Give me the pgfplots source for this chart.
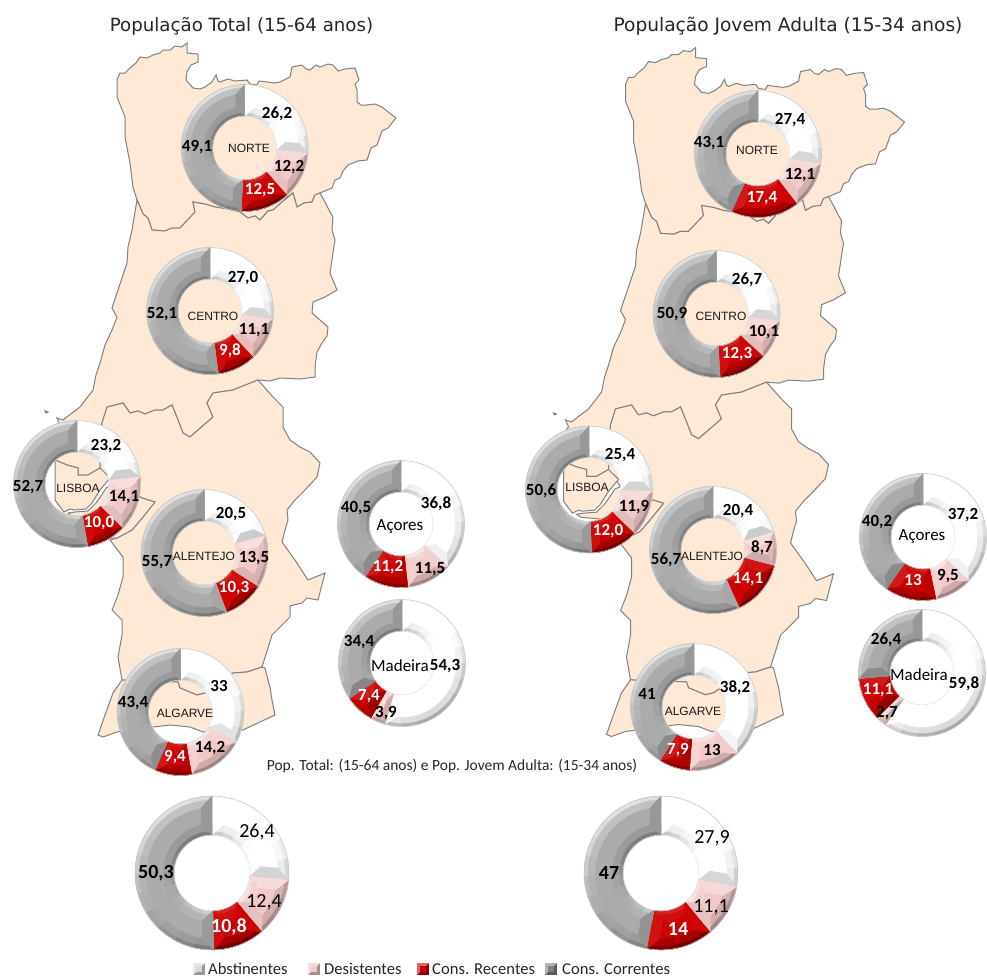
\documentclass[border=0pt]{standalone}
\usepackage{fontspec}
\usepackage{pgfplots}
\usepackage{pgfplotstable}
\pgfplotsset{compat=1.18}
\setmainfont{Carlito}
\newfontfamily\djf{DejaVu Sans}
\newfontfamily\libf{Liberation Sans}
\definecolor{cream}{HTML}{FDE9D6}
\definecolor{mapline}{HTML}{808080}
\definecolor{cA}{HTML}{FFFFFF}
\definecolor{cD}{HTML}{F2C8C8}
\definecolor{cR}{HTML}{CC0000}
\definecolor{cC}{HTML}{ABABAB}
\pgfplotsset{pic/.style={width=987pt,height=977pt,scale only axis,xmin=0,xmax=987,ymin=0,ymax=977,y dir=reverse,hide axis,clip=false}}
\pgfplotstableread{
x y
117 80
120 73
125 73
130 68
136 63
140 57
147 58
153 55
160 53
163 50
170 50
175 46
182 47
187 43
187 53
198 54
198 62
191 65
187 72
186 80
193 88
200 89
205 87
212 82
216 75
218 81
220 82
228 79
235 81
247 80
250 84
257 85
259 81
267 82
274 83
280 82
290 77
292 67
302 65
306 69
310 70
316 65
320 67
328 64
333 65
338 71
345 69
355 68
359 80
355 84
357 90
357 102
361 105
367 105
375 104
382 107
396 118
388 128
382 131
377 145
371 148
367 160
358 161
348 165
343 171
340 178
335 180
332 188
320 193
315 195
312 202
304 203
297 207
293 193
286 198
282 202
273 210
268 211
260 220
255 216
248 218
240 212
228 209
215 207
205 204
193 202
195 212
180 228
172 228
165 231
152 230
148 218
143 214
138 202
137 200
133 187
130 163
125 137
125 117
117 97
}\tNorte
\pgfplotstableread{
x y
138 202
143 214
148 218
152 230
165 231
172 228
180 228
195 212
193 202
205 204
215 207
228 209
240 212
248 218
255 216
260 220
268 211
273 210
282 202
293 193
297 207
304 203
312 202
315 195
320 193
326 204
330 212
333 217
332 230
335 240
333 253
330 273
337 290
325 297
313 302
312 313
320 320
328 327
327 336
322 343
317 352
315 367
315 377
300 379
280 378
270 381
258 380
233 390
213 393
207 403
213 417
190 437
183 433
178 420
172 405
163 410
155 410
145 414
138 411
130 413
123 403
107 407
102 423
100 468
88 475
78 475
78 468
67 465
55 460
50 440
60 425
57 418
63 420
72 413
80 407
93 390
96 375
100 363
105 345
112 330
117 317
112 308
118 290
124 272
127 263
128 247
132 230
137 200
}\tCentro
\pgfplotstableread{
x y
55 460
67 465
78 468
78 475
88 475
100 468
110 478
100 490
92 503
86 509
74 510
70 509
64 512
55 500
}\tLisA
\pgfplotstableread{
x y
106 488
112 485
130 492
142 498
155 502
143 517
132 530
117 538
108 538
104 525
92 518
72 516
68 513
75 512
88 511
96 503
103 493
}\tLisB
\pgfplotstableread{
x y
102 423
107 407
123 403
130 413
138 411
145 414
155 410
163 410
172 405
178 420
183 433
190 437
213 417
207 403
213 393
233 390
258 380
273 397
283 407
283 427
290 440
300 447
310 452
320 463
317 477
305 490
295 500
287 510
288 520
285 530
282 542
297 563
308 580
325 573
318 600
307 598
302 603
290 606
290 617
272 635
268 648
262 667
247 672
233 673
220 683
205 693
197 695
180 688
178 682
150 681
122 680
118 657
122 635
122 620
112 610
118 595
123 577
123 557
110 540
117 538
132 530
143 517
155 502
142 498
130 492
112 485
100 468
}\tAlentejo
\pgfplotstableread{
x y
122 680
150 681
178 682
180 688
197 695
205 693
220 683
233 673
247 672
262 667
265 668
268 680
270 687
272 700
275 715
243 730
203 732
190 727
170 725
153 727
117 732
103 737
98 735
105 715
113 693
}\tAlgarve
\pgfplotstableread{
x y
45 411
48 412
46 413
}\tIlha
% ---- polygon helpers
\makeatletter
\def\AddArc#1#2#3#4#5#6{%
 \foreach \ii in {0,...,#6}{%
   \pgfmathsetmacro\tt@{#4+(#5-(#4))/#6*\ii}%
   \pgfmathsetmacro\px@{#1+#3*cos(\tt@)}%
   \pgfmathsetmacro\py@{#2-#3*sin(\tt@)}%
   \xdef\coords{\coords(\px@,\py@)}}}
\def\Poly#1{\edef\next@{\noexpand\addplot[forget plot,no marks,draw={#1},line width=0.2pt,fill={#1}] coordinates {\coords} --cycle;}\next@}
% #1 cx #2 cy #3 r1 #4 r2 #5 a1 #6 a2 #7 colour
\def\Ring#1#2#3#4#5#6#7{%
 \pgfmathtruncatemacro\nn@{max(1,ceil(abs(#5-(#6))/8))}%
 \gdef\coords{}\AddArc{#1}{#2}{#3}{#5}{#6}{\nn@}\AddArc{#1}{#2}{#4}{#6}{#5}{\nn@}\Poly{#7}}
% mix base by d*strength
\def\Shade#1#2#3{% base, d, strength -> \shc
 \pgfmathtruncatemacro\pp@{round(abs(#2)*#3*(#2>0?\Lcoef:\Dcoef))}%
 \pgfmathparse{#2>0?1:0}%
 \ifdim\pgfmathresult pt>0.5pt \edef\shc{#1!\the\numexpr100-\pp@\relax!white}\else\edef\shc{#1!\the\numexpr100-\pp@\relax!black}\fi}
% bevel band: cx cy rA rB a1 a2 base sign strength
\def\Bev#1#2#3#4#5#6#7#8#9{%
 \pgfmathtruncatemacro\ns@{max(1,round(abs(#5-(#6))/15))}%
 \foreach \kk in {1,...,\ns@}{%
   \pgfmathsetmacro\aa@{#5+(#6-(#5))/\ns@*(\kk-1)}%
   \pgfmathsetmacro\ab@{#5+(#6-(#5))/\ns@*\kk}%
   \pgfmathsetmacro\dd@{#8*cos((\aa@+\ab@)/2-120)}%
   \Shade{#7}{\dd@}{#9}%
   \Ring{#1}{#2}{#3}{#4}{\aa@}{\ab@}{\shc}}}
% end facet: cx cy R r a side(+1 sector at smaller angle) base maxdelta b; strength in \EndS
\def\EndF#1#2#3#4#5#6#7#8#9{%
 \pgfmathsetmacro\dd@{cos(#5+#6*90-120)}%
 \pgfmathsetmacro\do@{min(#8,deg(#9/(#3-#9)))}%
 \pgfmathsetmacro\di@{min(#8,deg(#9/(#4+#9)))}%
 \pgfmathsetmacro\ro@{#3-#9}\pgfmathsetmacro\ri@{#4+#9}%
 \Shade{#7}{\dd@}{\EndS}%
 \gdef\coords{}%
 \AddArc{#1}{#2}{#3}{#5}{#5}{1}\AddArc{#1}{#2}{#4}{#5}{#5}{1}%
 \pgfmathsetmacro\ta@{#5-#6*\di@}\pgfmathsetmacro\tb@{#5-#6*\do@}%
 \AddArc{#1}{#2}{\ri@}{\ta@}{\ta@}{1}\AddArc{#1}{#2}{\ro@}{\tb@}{\tb@}{1}%
 \Poly{\shc}}
% sector: cx cy R r a1 a2 base b
\def\Sector#1#2#3#4#5#6#7#8{%
 \Ring{#1}{#2}{#3}{#4}{#5}{#6}{#7}%
 \pgfmathsetmacro\ra@{#3-#8/3}\pgfmathsetmacro\rc@{#3-#8}%
 \pgfmathsetmacro\rd@{#4+#8/3}\pgfmathsetmacro\rf@{#4+#8}%
 \edef\Ra@{\ra@}\edef\Rc@{\rc@}\edef\Rd@{\rd@}\edef\Rf@{\rf@}%
 \Bev{#1}{#2}{\Ra@}{\Rc@}{#5}{#6}{#7}{1}{0.42}%
 \Bev{#1}{#2}{#3}{\Ra@}{#5}{#6}{#7}{1}{1}%
 \Bev{#1}{#2}{\Rd@}{\Rf@}{#5}{#6}{#7}{-1}{0.3}%
 \Bev{#1}{#2}{#4}{\Rd@}{#5}{#6}{#7}{-1}{0.8}%
 \pgfmathsetmacro\hd@{abs(#5-(#6))/2}\edef\Hd@{\hd@}%
 \def\EndS{0.6}%
 \EndF{#1}{#2}{#3}{#4}{#5}{1}{#7}{\Hd@}{#8}%
 \EndF{#1}{#2}{#3}{#4}{#6}{-1}{#7}{\Hd@}{#8}}
% donut: cx cy R r b v1 v2 v3 v4
\def\Donut#1#2#3#4#5#6#7#8#9{%
 \pgfmathsetmacro\sm@{#6+#7+#8+#9}%
 \pgfmathsetmacro\Aa@{90-(#6)/\sm@*360}\edef\AA@{\Aa@}%
 \pgfmathsetmacro\Ab@{90-(#6+#7)/\sm@*360}\edef\AB@{\Ab@}%
 \pgfmathsetmacro\Ac@{90-(#6+#7+#8)/\sm@*360}\edef\AC@{\Ac@}%
 \def\Lcoef{0}\def\Dcoef{34}%
 \Sector{#1}{#2}{#3}{#4}{90}{\AA@}{cA}{#5}%
 \def\Lcoef{70}\def\Dcoef{35}%
 \Sector{#1}{#2}{#3}{#4}{\AA@}{\AB@}{cD}{#5}%
 \def\Lcoef{18}\def\Dcoef{45}%
 \Sector{#1}{#2}{#3}{#4}{\AB@}{\AC@}{cR}{#5}%
 \def\Lcoef{65}\def\Dcoef{35}%
 \Sector{#1}{#2}{#3}{#4}{\AC@}{-270}{cC}{#5}%
 \gdef\coords{}\AddArc{#1}{#2}{#3}{0}{360}{48}%
 \edef\next@{\noexpand\addplot[forget plot,no marks,draw=black!22,line width=0.6pt] coordinates {\coords};}\next@
 \gdef\coords{}\AddArc{#1}{#2}{#4}{0}{360}{36}%
 \edef\next@{\noexpand\addplot[forget plot,no marks,draw=black!12,line width=0.5pt] coordinates {\coords};}\next@}
\makeatother
\newcommand\Map[1]{\addplot[forget plot,no marks,fill=cream,draw=mapline,line width=1pt] #1 --cycle;}
\newcommand\Lb[3]{\node[font=\fontsize{17}{17}\selectfont\bfseries,text=black,inner sep=0pt] at (axis cs:#1,#2) {#3};}
\newcommand\Lw[3]{\node[font=\fontsize{17}{17}\selectfont\bfseries,text=white,inner sep=0pt] at (axis cs:#1,#2) {#3};}
\newcommand\Rg[3]{\node[font=\libf\fontsize{12}{12}\selectfont,text=black!90,inner sep=0pt] at (axis cs:#1,#2) {#3};}
\newcommand\Is[3]{\node[font=\fontsize{17}{17}\selectfont,text=black,inner sep=0pt] at (axis cs:#1,#2) {#3};}
\newcommand\LegMark[2]{%
 \addplot[forget plot,fill=#2!70!black,draw=none] coordinates {(#1,963)(#1+12,963)(#1+12,975)(#1,975)} --cycle;
 \addplot[forget plot,fill=#2!60!white,draw=none] coordinates {(#1,963)(#1+12,963)(#1,975)} --cycle;
 \addplot[forget plot,fill=#2,draw=none] coordinates {(#1+3,966)(#1+9,966)(#1+9,972)(#1+3,972)} --cycle;
}
\begin{document}
\begin{tikzpicture}
\begin{axis}[pic]
\addplot[forget plot,fill=white,draw=none] coordinates {(0,0)(987,0)(987,977)(0,977)} --cycle;
% left map
\Map{table[x=x,y=y]{\tNorte}}
\Map{table[x=x,y=y]{\tCentro}}
\Map{table[x=x,y=y]{\tAlentejo}}
\Map{table[x=x,y=y]{\tAlgarve}}
\Map{table[x=x,y=y]{\tLisA}}
\Map{table[x=x,y=y]{\tLisB}}
\Map{table[x=x,y=y]{\tIlha}}
% right map
\Map{table[x expr=\thisrow{x}+508.5,y expr=0.9925*\thisrow{y}+5]{\tNorte}}
\Map{table[x expr=\thisrow{x}+508.5,y expr=0.9925*\thisrow{y}+5]{\tCentro}}
\Map{table[x expr=\thisrow{x}+508.5,y expr=0.9925*\thisrow{y}+5]{\tAlentejo}}
\Map{table[x expr=\thisrow{x}+508.5,y expr=0.9925*\thisrow{y}+5]{\tAlgarve}}
\Map{table[x expr=\thisrow{x}+508.5,y expr=0.9925*\thisrow{y}+5]{\tLisA}}
\Map{table[x expr=\thisrow{x}+508.5,y expr=0.9925*\thisrow{y}+5]{\tLisB}}
\Map{table[x expr=\thisrow{x}+508.5,y expr=0.9925*\thisrow{y}+5]{\tIlha}}
\end{axis}
% donuts, left
\begin{axis}[pic]
\Donut{244.7}{148}{63.5}{32}{9}{26.2}{12.2}{12.5}{49.1}
\Donut{210}{311}{63.5}{32}{9}{27.0}{11.1}{9.8}{52.1}
\Donut{77}{484}{63.5}{32}{9}{23.2}{14.1}{10.0}{52.7}
\end{axis}
\begin{axis}[pic]
\Donut{204.5}{553}{63.5}{32}{9}{20.5}{13.5}{10.3}{55.7}
\Donut{180.5}{712}{63.5}{32}{9}{33}{14.2}{9.4}{43.4}
\Donut{401}{524}{63.5}{32}{9}{36.8}{11.5}{11.2}{40.5}
\end{axis}
\begin{axis}[pic]
\Donut{402}{663}{63.5}{32}{9}{54.3}{3.9}{7.4}{34.4}
\Donut{212}{873}{77}{38}{11}{26.4}{12.4}{10.8}{50.3}
\Donut{758}{154}{63.5}{32}{9}{27.4}{12.1}{17.4}{43.1}
\end{axis}
% donuts, right
\begin{axis}[pic]
\Donut{716.5}{314}{63.5}{32}{9}{26.7}{10.1}{12.3}{50.9}
\Donut{589}{489.5}{63.5}{32}{9}{25.4}{11.9}{12.0}{50.6}
\Donut{713}{550}{63.5}{32}{9}{20.4}{8.7}{14.1}{56.7}
\end{axis}
\begin{axis}[pic]
\Donut{694}{707}{63.5}{32}{9}{38.2}{13}{7.9}{41}
\Donut{923}{537}{63.5}{32}{9}{37.2}{9.5}{13}{40.2}
\Donut{922}{673}{63.5}{32}{9}{59.8}{2.7}{11.1}{26.4}
\end{axis}
\begin{axis}[pic]
\Donut{661}{873}{77}{38}{11}{27.9}{11.1}{14}{47}
% legend marks
\LegMark{193}{cA!85!black}
\LegMark{308}{cD}
\LegMark{417}{cR}
\LegMark{545}{cC!75!black}
% titles
\node[font=\djf\fontsize{18.2}{18.2}\selectfont,text=black!85,inner sep=0pt] at (axis cs:241.5,26) {População Total (15-64 anos)};
\node[font=\djf\fontsize{18.6}{18.6}\selectfont,text=black!85,inner sep=0pt] at (axis cs:788,26) {População Jovem Adulta (15-34 anos)};
\node[font=\fontsize{15.5}{15.5}\selectfont,text=black!85,inner sep=0pt] at (axis cs:452,766) {Pop. Total: (15-64 anos) e Pop. Jovem Adulta: (15-34 anos)};
\node[font=\fontsize{16.6}{16.6}\selectfont,text=black!85,inner sep=0pt,anchor=base west] at (axis cs:208,974.5) {Abstinentes};
\node[font=\fontsize{16.6}{16.6}\selectfont,text=black!85,inner sep=0pt,anchor=base west] at (axis cs:324,974.5) {Desistentes};
\node[font=\fontsize{16.6}{16.6}\selectfont,text=black!85,inner sep=0pt,anchor=base west] at (axis cs:432,974.5) {Cons. Recentes};
\node[font=\fontsize{16.6}{16.6}\selectfont,text=black!85,inner sep=0pt,anchor=base west] at (axis cs:562,974.5) {Cons. Correntes};
% labels left
\Lb{277}{114}{26,2}\Lb{289}{167}{12,2}\Lw{260}{190}{12,5}\Lb{197}{147}{49,1}\Rg{249}{148}{NORTE}
\Lb{243}{278}{27,0}\Lb{254}{330}{11,1}\Lw{230}{351}{9,8}\Lb{162}{314}{52,1}\Rg{213}{316}{CENTRO}
\Lb{106}{446}{23,2}\Lb{124}{497}{14,1}\Lw{99}{523}{10,0}\Lb{28}{487}{52,7}\Rg{78}{488}{LISBOA}
\Lb{231}{514}{20,5}\Lb{254}{558}{13,5}\Lw{234}{588}{10,3}\Lb{157}{562}{55,7}\Rg{204}{556}{ALENTEJO}
\Lb{219}{686}{33}\Lb{210}{748}{14,2}\Lw{175}{757}{9,4}\Lb{133}{703}{43,4}\Rg{185}{713}{ALGARVE}
\Lb{436}{504}{36,8}\Lb{430}{569}{11,5}\Lw{388}{567}{11,2}\Lb{356}{508}{40,5}\Is{400}{526}{Açores}
\Lb{445}{666}{54,3}\Lb{386}{713}{3,9}\Lw{369}{696}{7,4}\Lb{359}{642}{34,4}\Is{400}{666}{Madeira}
\node[font=\fontsize{20}{20}\selectfont,inner sep=0pt] at (axis cs:257,832) {26,4};
\node[font=\fontsize{20}{20}\selectfont,inner sep=0pt] at (axis cs:264,902) {12,4};
\node[font=\fontsize{20}{20}\selectfont\bfseries,text=white,inner sep=0pt] at (axis cs:229,927) {10,8};
\node[font=\fontsize{20}{20}\selectfont\bfseries,inner sep=0pt] at (axis cs:156,873) {50,3};
% labels right
\Lb{790}{120}{27,4}\Lb{800}{175}{12,1}\Lw{762}{198}{17,4}\Lb{709}{143}{43,1}\Rg{757}{150}{NORTE}
\Lb{747}{280}{26,7}\Lb{764}{332}{10,1}\Lw{737}{354}{12,3}\Lb{672}{314}{50,9}\Rg{721}{316}{CENTRO}
\Lb{620}{455}{25,4}\Lb{634}{507}{11,9}\Lw{608}{531}{12,0}\Lb{541}{491}{50,6}\Rg{587}{487}{LISBOA}
\Lb{738}{511}{20,4}\Lb{762}{548}{8,7}\Lw{748}{579}{14,1}\Lb{666}{560}{56,7}\Rg{712}{556}{ALENTEJO}
\Lb{735}{688}{38,2}\Lb{712}{750}{13}\Lw{678}{750}{7,9}\Lb{647}{694}{41}\Rg{693}{711}{ALGARVE}
\Lb{963}{515}{37,2}\Lb{948}{576}{9,5}\Lw{913}{580}{13}\Lb{877}{522}{40,2}\Is{922}{536}{Açores}
\Lb{964}{684}{59,8}\Lb{887}{713}{2,7}\Lw{878}{690}{11,1}\Lb{886}{640}{26,4}\Is{919}{675}{Madeira}
\node[font=\fontsize{20}{20}\selectfont,inner sep=0pt] at (axis cs:712,838) {27,9};
\node[font=\fontsize{20}{20}\selectfont,inner sep=0pt] at (axis cs:711,907) {11,1};
\node[font=\fontsize{20}{20}\selectfont\bfseries,text=white,inner sep=0pt] at (axis cs:678,929) {14};
\node[font=\fontsize{20}{20}\selectfont\bfseries,inner sep=0pt] at (axis cs:609,873) {47};
\end{axis}
\end{tikzpicture}
\end{document}
